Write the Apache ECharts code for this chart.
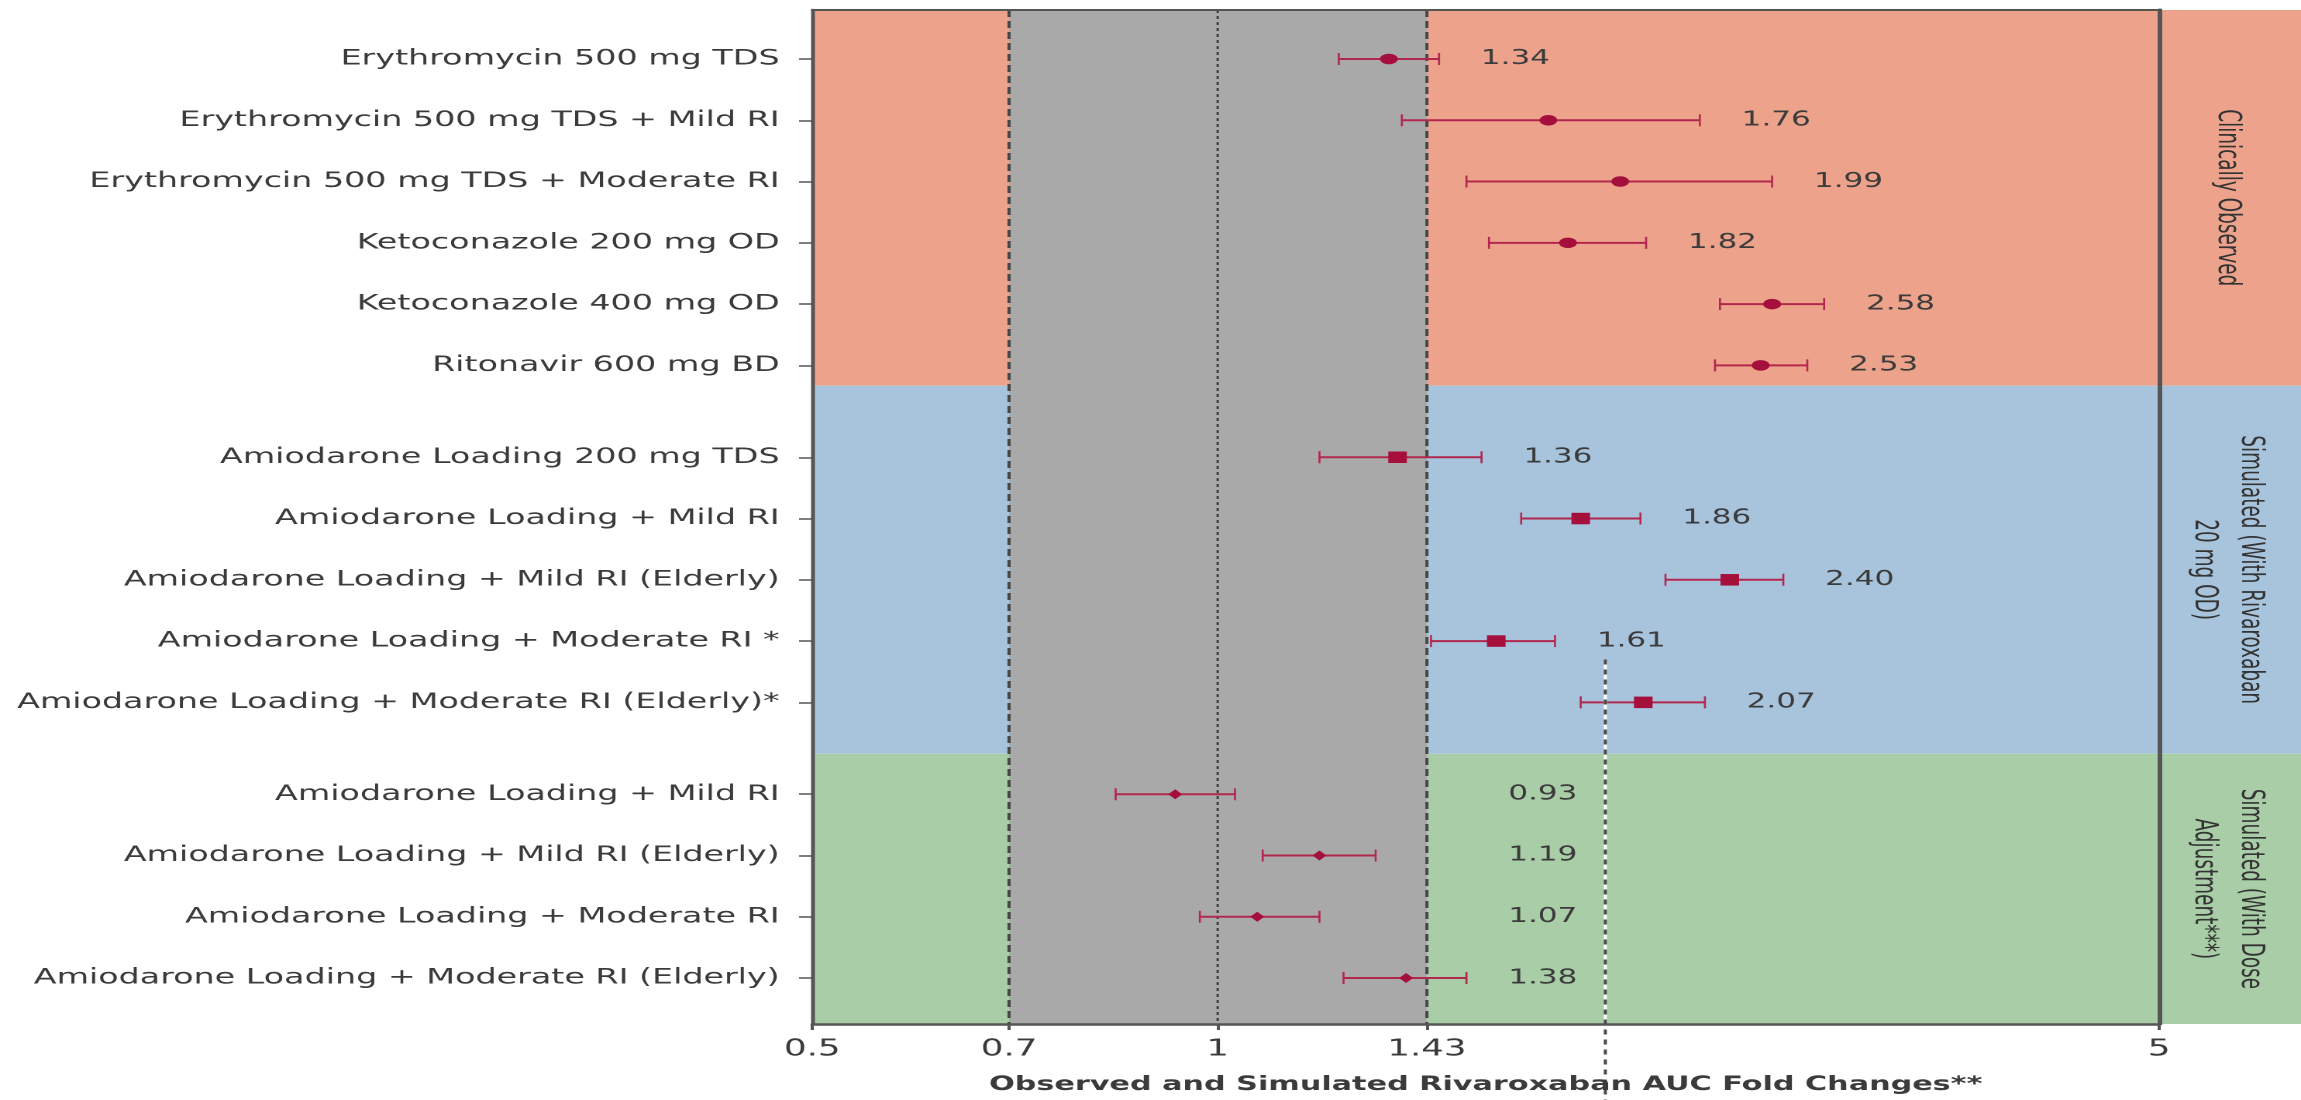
<!DOCTYPE html>
<html>
<head>
<meta charset="utf-8">
<title>Rivaroxaban AUC fold changes</title>
<script src="https://cdn.jsdelivr.net/npm/echarts@6/dist/echarts.min.js"></script>
<style>
  html, body { margin: 0; padding: 0; overflow: hidden; background: #fff; }
  /* the source figure is stretched horizontally, so the chart is drawn narrow and widened */
  #chart { width: 1485px; height: 1100px; transform: scaleX(1.55); transform-origin: 0 0; }
</style>
</head>
<body>
<div id="chart"></div>
<script>
// rows, top to bottom
const labels = [
  'Erythromycin 500 mg TDS',
  'Erythromycin 500 mg TDS + Mild RI',
  'Erythromycin 500 mg TDS + Moderate RI',
  'Ketoconazole 200 mg OD',
  'Ketoconazole 400 mg OD',
  'Ritonavir 600 mg BD',
  'Amiodarone Loading 200 mg TDS',
  'Amiodarone Loading + Mild RI',
  'Amiodarone Loading + Mild RI (Elderly)',
  'Amiodarone Loading + Moderate RI *',
  'Amiodarone Loading + Moderate RI (Elderly)*',
  'Amiodarone Loading + Mild RI',
  'Amiodarone Loading + Mild RI (Elderly)',
  'Amiodarone Loading + Moderate RI',
  'Amiodarone Loading + Moderate RI (Elderly)'
]
const groupOf = [0, 0, 0, 0, 0, 0, 1, 1, 1, 1, 1, 2, 2, 2, 2]
const foldChange = [1.34, 1.76, 1.99, 1.82, 2.58, 2.53, 1.36, 1.86, 2.40, 1.61, 2.07, 0.93, 1.19, 1.07, 1.38]
const ciLow = [1.23, 1.37, 1.53, 1.59, 2.36, 2.34, 1.19, 1.68, 2.15, 1.44, 1.86, 0.84, 1.08, 0.97, 1.24]
const ciHigh = [1.46, 2.28, 2.58, 2.08, 2.82, 2.74, 1.57, 2.06, 2.63, 1.78, 2.30, 1.03, 1.31, 1.19, 1.53]
const groupNames = [
  'Clinically Observed',
  'Simulated (With Rivaroxaban\n20 mg OD)',
  'Simulated (With Dose\nAdjustment***)'
]
const xTicks = [0.5, 0.7, 1, 1.43, 5]
const refLines = [0.7, 1, 1.43]
const cursorMark = [1.94, 10.6]

const lg = v => Math.log10(v)
const X_MIN = lg(xTicks[0])
const X_MAX = lg(xTicks[xTicks.length - 1])
const Y_MAX = 16.55
const rowPos = labels.map((_, i) => 0.8 + i + groupOf[i] * 0.5)
const bandEdges = [0, 6.13, 12.14, Y_MAX]
const bandColors = ['#eda38b', '#a8c4dd', '#a9cea7']
const shapes = ['circle', 'rect', 'diamond']
const shapeSizes = [[11.5, 10.5], [12, 11.5], [9, 10]]
const RED = '#a50f3b'
const BAR = '#b3274e'
const TEXT = '#3b3b3b'
const AXIS = '#555'
const FONT = '"DejaVu Sans", Verdana, sans-serif'

function nearest (arr, v) {
  let k = 0
  arr.forEach((a, i) => { if (Math.abs(a - v) < Math.abs(arr[k] - v)) k = i })
  return k
}

// the dose-adjusted group has its labels in one column
const groupMaxHigh = [0, 1, 2].map(g => Math.max(...ciHigh.filter((_, i) => groupOf[i] === g)))

let chart = echarts.init(document.getElementById('chart'), null, { devicePixelRatio: 2 })

let scatterSeries = [0, 1, 2].map(g => ({
  type: 'scatter',
  z: 5,
  symbol: shapes[g],
  symbolSize: shapeSizes[g],
  itemStyle: { color: RED, opacity: 1 },
  data: foldChange.map((v, i) => [lg(v), rowPos[i], groupOf[i]]).filter(d => d[2] === g)
}))

chart.setOption({
  animation: false,
  grid: { left: 524, right: 92, top: 10, bottom: 75 },
  xAxis: [
    {
      type: 'value',
      min: X_MIN,
      max: X_MAX,
      z: 10,
      name: 'Observed and Simulated Rivaroxaban AUC Fold Changes**',
      nameLocation: 'middle',
      nameGap: 51,
      nameTextStyle: { color: TEXT, fontSize: 19.5, fontWeight: 'bold', fontFamily: FONT },
      splitLine: { show: false },
      axisLine: { onZero: false, lineStyle: { color: AXIS, width: 2.5 } },
      axisTick: { customValues: xTicks.map(lg), length: 6, lineStyle: { color: AXIS, width: 2 } },
      axisLabel: {
        customValues: xTicks.map(lg),
        formatter: v => String(xTicks[nearest(xTicks.map(lg), v)]),
        margin: 14,
        color: TEXT,
        fontSize: 23,
        fontFamily: FONT
      }
    },
    {
      type: 'value',
      position: 'top',
      min: X_MIN,
      max: X_MAX,
      z: 10,
      splitLine: { show: false },
      axisLine: { onZero: false, lineStyle: { color: AXIS, width: 2 } },
      axisTick: { show: false },
      axisLabel: { show: false }
    }
  ],
  yAxis: [
    {
      type: 'value',
      inverse: true,
      min: 0,
      max: Y_MAX,
      z: 10,
      splitLine: { show: false },
      axisLine: { onZero: false, lineStyle: { color: AXIS, width: 2.5 } },
      axisTick: { customValues: rowPos, length: 8.5, lineStyle: { color: AXIS, width: 1.5 } },
      axisLabel: {
        customValues: rowPos,
        formatter: v => labels[nearest(rowPos, v)],
        margin: 21,
        color: TEXT,
        fontSize: 21.5,
        fontFamily: FONT
      }
    },
    {
      type: 'value',
      position: 'right',
      inverse: true,
      min: 0,
      max: Y_MAX,
      z: 10,
      splitLine: { show: false },
      axisLine: { onZero: false, lineStyle: { color: AXIS, width: 3 } },
      axisTick: { show: false },
      axisLabel: { show: false }
    }
  ],
  series: [
    {
      // coloured group bands, running on past the plot into the label strip
      type: 'custom',
      z: 1,
      clip: false,
      silent: true,
      encode: { x: 0, y: [1, 2] },
      data: groupNames.map((_, g) => [X_MIN, bandEdges[g], bandEdges[g + 1]]),
      renderItem: (params, api) => {
        let cs = params.coordSys
        let top = api.coord([api.value(0), api.value(1)])[1]
        let bot = api.coord([api.value(0), api.value(2)])[1]
        let g = params.dataIndex
        return {
          type: 'group',
          children: [
            {
              type: 'rect',
              shape: { x: cs.x, y: top, width: api.getWidth() - cs.x, height: bot - top },
              style: { fill: bandColors[g] }
            },
            {
              type: 'text',
              x: (cs.x + cs.width + api.getWidth()) / 2 - 2,
              y: (top + bot) / 2,
              rotation: -Math.PI / 2,
              style: {
                text: groupNames[g],
                fill: '#333',
                fontSize: 20.5,
                fontFamily: '"Liberation Sans Narrow", "DejaVu Sans Condensed", sans-serif',
                lineHeight: 30,
                align: 'center',
                verticalAlign: 'middle'
              }
            }
          ]
        }
      }
    },
    {
      // grey band between the bioequivalence limits
      type: 'custom',
      z: 2,
      silent: true,
      encode: { x: [0, 1] },
      data: [[lg(refLines[0]), lg(refLines[refLines.length - 1])]],
      renderItem: (params, api) => {
        let cs = params.coordSys
        let a = api.coord([api.value(0), 0])[0]
        let b = api.coord([api.value(1), 0])[0]
        return { type: 'rect', shape: { x: a, y: cs.y, width: b - a, height: cs.height }, style: { fill: '#a9a9a9' } }
      }
    },
    {
      // dashed reference lines
      type: 'custom',
      z: 3,
      silent: true,
      encode: { x: 0 },
      data: refLines.map(v => [lg(v), v]),
      renderItem: (params, api) => {
        let cs = params.coordSys
        let x = api.coord([api.value(0), 0])[0]
        let unity = api.value(1) === 1
        return {
          type: 'line',
          shape: { x1: x, y1: cs.y, x2: x, y2: cs.y + cs.height },
          style: { stroke: '#474747', lineWidth: unity ? 1.6 : 2, lineDash: unity ? [3, 3] : [7, 4] }
        }
      }
    },
    {
      // confidence intervals and value labels
      type: 'custom',
      z: 4,
      silent: true,
      encode: { x: [0, 1, 3], y: 2 },
      data: labels.map((_, i) => [
        lg(ciLow[i]), lg(ciHigh[i]), rowPos[i],
        lg(groupOf[i] === 2 ? groupMaxHigh[2] : ciHigh[i])
      ]),
      renderItem: (params, api) => {
        let y = api.value(2)
        let a = api.coord([api.value(0), y])
        let b = api.coord([api.value(1), y])
        let t = api.coord([api.value(3), y])
        let cap = 6
        return {
          type: 'group',
          children: [
            { type: 'line', shape: { x1: a[0], y1: a[1], x2: b[0], y2: b[1] }, style: { stroke: BAR, lineWidth: 2 } },
            { type: 'line', shape: { x1: a[0], y1: a[1] - cap, x2: a[0], y2: a[1] + cap }, style: { stroke: BAR, lineWidth: 1.3 } },
            { type: 'line', shape: { x1: b[0], y1: b[1] - cap, x2: b[0], y2: b[1] + cap }, style: { stroke: BAR, lineWidth: 1.3 } },
            {
              type: 'text',
              x: t[0] + 27,
              y: t[1],
              style: {
                text: foldChange[params.dataIndex].toFixed(2),
                fill: TEXT,
                fontSize: 20,
                fontFamily: FONT,
                align: 'left',
                verticalAlign: 'middle'
              }
            }
          ]
        }
      }
    },
    ...scatterSeries,
    {
      // dotted marker line running down past the axis
      type: 'custom',
      z: 6,
      clip: false,
      silent: true,
      encode: { x: 0, y: 1 },
      data: [[lg(cursorMark[0]), cursorMark[1]]],
      renderItem: (params, api) => {
        let p = api.coord([api.value(0), api.value(1)])
        let h = api.getHeight()
        return {
          type: 'group',
          children: [
            { type: 'line', shape: { x1: p[0], y1: p[1], x2: p[0], y2: h }, style: { stroke: '#ffffff', lineWidth: 2 } },
            { type: 'line', shape: { x1: p[0], y1: p[1], x2: p[0], y2: h }, style: { stroke: '#4a4a4a', lineWidth: 2, lineDash: [5, 5] } }
          ]
        }
      }
    }
  ]
})
</script>
</body>
</html>
